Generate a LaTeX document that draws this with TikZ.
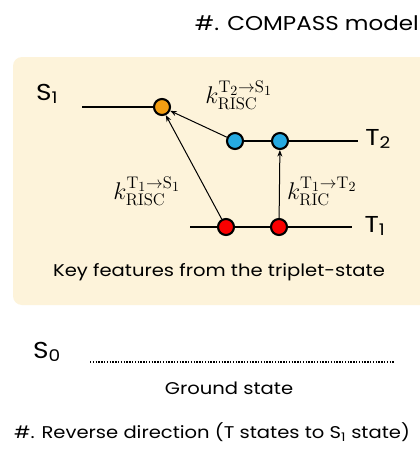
\documentclass[tikz,border=0pt]{standalone}
\usepackage[no-math]{fontspec}
\setmainfont{Poppins}[FakeStretch=1.15]
\usetikzlibrary{arrows.meta}
\definecolor{bgc}{RGB}{253,243,218}
\definecolor{orangec}{RGB}{242,157,18}
\definecolor{bluec}{RGB}{38,170,226}
\definecolor{redc}{RGB}{250,0,0}
\newcommand{\kbig}[1]{\scalebox{1.4}{\fontsize{17.28}{20}\selectfont$#1$}}
\tikzset{
  dot/.style={circle,draw=black,line width=2.1pt,minimum size=16pt,inner sep=0pt},
  level/.style={line width=2.4pt},
  arr/.style={line width=1pt,-{Stealth[length=6.5pt,width=5pt]}},
  lab/.style={font=\fontsize{23}{26}\selectfont,inner sep=0pt},
  klab/.style={inner sep=0pt},
  txt/.style={font=\fontsize{17}{20}\selectfont,inner sep=0pt}
}
\begin{document}
\begin{tikzpicture}[x=1pt,y=-1pt]
\useasboundingbox (0,0) rectangle (420,463);
\fill[white] (0,0) rectangle (420,463);
\fill[bgc,rounded corners=9pt] (13,57) rectangle (440,305);
% title
\node[txt,font=\fontsize{20}{22}\selectfont,anchor=east] (title) at (419,23) {\#. COMPASS model};
% S1
\node[lab] (S1) at (47,94) {S\textsubscript{1}};
\coordinate (s1l) at (82,107);
\node[dot,fill=orangec] (o) at (162,107) {};
\draw[level] (s1l) -- (o);
% T2
\node[dot,fill=bluec] (b1) at (235,141) {};
\node[dot,fill=bluec] (b2) at (280,141) {};
\coordinate (t2r) at (358,141);
\draw[level] (b1) -- (b2) -- (t2r);
\node[lab] (T2) at (378,139) {T\textsubscript{2}};
% T1
\coordinate (t1l) at (190,227);
\node[dot,fill=redc] (r1) at (226,227) {};
\node[dot,fill=redc] (r2) at (279,227) {};
\coordinate (t1r) at (352,227);
\draw[level] (t1l) -- (r1) -- (r2) -- (t1r);
\node[lab] (T1) at (375,226) {T\textsubscript{1}};
% arrows
\draw[arr] (b1) -- (o.-25);
\draw[arr] (r1) -- (o.-65);
\draw[arr] (r2) -- (b2);
% k labels
\node[klab] (k1) at (239,95) {\kbig{k^{\mathrm{T}_2\rightarrow\mathrm{S}_1}_{\mathrm{RISC}}}};
\node[klab] (k2) at (147,191) {\kbig{k^{\mathrm{T}_1\rightarrow\mathrm{S}_1}_{\mathrm{RISC}}}};
\node[klab] (k3) at (322,191) {\kbig{k^{\mathrm{T}_1\rightarrow\mathrm{T}_2}_{\mathrm{RIC}}}};
% caption in box
\node[txt] (key) at (219,272) {Key features from the triplet-state};
% S0
\node[lab] (S0) at (47,352) {S\textsubscript{0}};
\coordinate (s0l) at (90,362);
\coordinate (s0r) at (395,362);
\draw[line width=1.8pt,dash pattern=on 1.4pt off 1.4pt] (s0l) -- (s0r);
\node[txt] (gs) at (229,388) {Ground state};
\node[txt] (rev) at (212,432) {\#. Reverse direction (T states to S\textsubscript{1} state)};
\end{tikzpicture}
\end{document}
